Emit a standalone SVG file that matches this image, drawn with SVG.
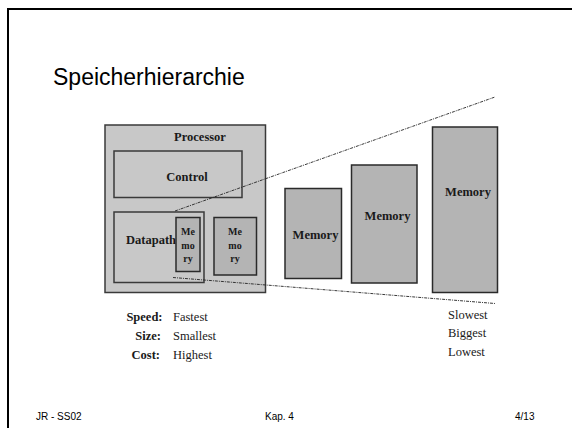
<svg xmlns="http://www.w3.org/2000/svg" width="572" height="428" viewBox="0 0 572 428">
<style>
.frame{fill:none;stroke:#000;stroke-width:2}
.box{fill:#c8c8c8;stroke:#3a3a3a;stroke-width:1.5}
.mem{fill:#b4b4b4;stroke:#2a2a2a;stroke-width:1.5}
.lbl{font-family:"Liberation Serif",serif;font-weight:bold;font-size:12.5px;fill:#1a1a1a;text-anchor:middle}
.sm{font-family:"Liberation Serif",serif;font-weight:bold;font-size:10px;fill:#1a1a1a;text-anchor:middle}
.key{font-family:"Liberation Serif",serif;font-weight:bold;font-size:12.5px;fill:#1a1a1a;text-anchor:end}
.val{font-family:"Liberation Serif",serif;font-size:12.5px;fill:#1a1a1a}
.title{font-family:"Liberation Sans",Arial,sans-serif;font-size:23px;fill:#000}
.foot{font-family:"Liberation Sans",Arial,sans-serif;font-size:10px;fill:#000}
.dash{fill:none;stroke:#222;stroke-width:0.9;stroke-dasharray:3,1,1,1}
</style>
<rect class="frame" x="8" y="9" width="600" height="500"/>
<text class="title" x="53" y="85">Speicherhierarchie</text>
<g id="processor">
<rect class="box" x="105" y="125" width="160.5" height="167.5"/>
<text class="lbl" x="200" y="141">Processor</text>
</g>
<g id="control">
<rect class="box" x="114" y="151" width="128" height="46.5"/>
<text class="lbl" x="187" y="181">Control</text>
</g>
<g id="datapath">
<rect class="box" x="114" y="212" width="90" height="70.5"/>
<text class="lbl" x="151" y="243.5">Datapath</text>
</g>
<g id="mem-reg">
<rect class="mem" x="176" y="217.5" width="24" height="54"/>
<text class="sm" x="188" y="235">Me</text>
<text class="sm" x="188" y="248.5">mo</text>
<text class="sm" x="188" y="262">ry</text>
</g>
<g id="mem-cache">
<rect class="mem" x="214" y="217.5" width="42.5" height="57.5"/>
<text class="sm" x="235" y="235">Me</text>
<text class="sm" x="235" y="248.5">mo</text>
<text class="sm" x="235" y="262">ry</text>
</g>
<g id="memory1">
<rect class="mem" x="285" y="188.5" width="56.5" height="90"/>
<text class="lbl" x="315.5" y="238.5">Memory</text>
</g>
<g id="memory2">
<rect class="mem" x="351.5" y="165" width="65.5" height="118"/>
<text class="lbl" x="387.5" y="220">Memory</text>
</g>
<g id="memory3">
<rect class="mem" x="432.5" y="127" width="65" height="165.5"/>
<text class="lbl" x="468" y="196">Memory</text>
</g>
<g id="connectors">
<line class="dash" x1="175" y1="211" x2="495" y2="97"/>
<line class="dash" x1="173" y1="277.5" x2="495" y2="303.5"/>
</g>
<g id="legend">
<text class="key" x="162.5" y="321">Speed:</text>
<text class="key" x="161" y="340">Size:</text>
<text class="key" x="160" y="358.5">Cost:</text>
<text class="val" x="173" y="321">Fastest</text>
<text class="val" x="173" y="340">Smallest</text>
<text class="val" x="173" y="358.5">Highest</text>
<text class="val" x="448" y="318.5">Slowest</text>
<text class="val" x="448" y="337">Biggest</text>
<text class="val" x="448" y="355.5">Lowest</text>
</g>
<text class="foot" x="36" y="420">JR - SS02</text>
<text class="foot" x="265" y="420">Kap. 4</text>
<text class="foot" x="515" y="420">4/13</text>
</svg>
